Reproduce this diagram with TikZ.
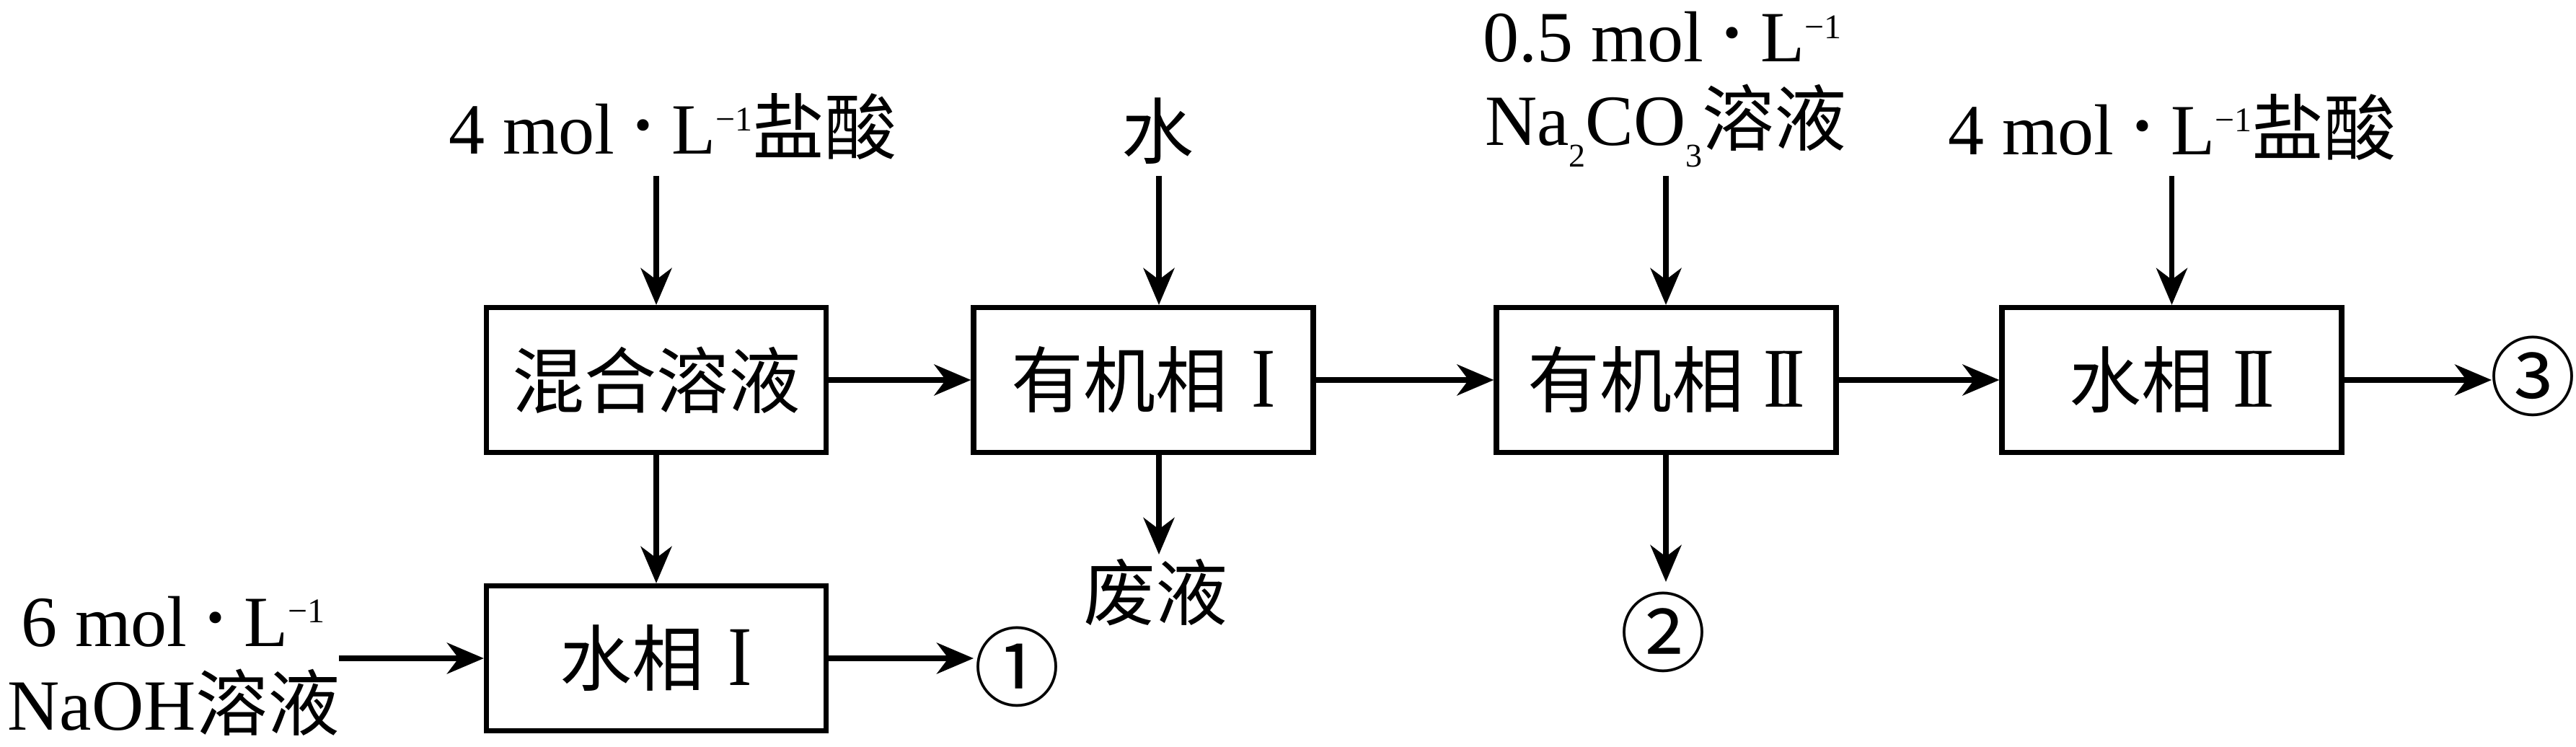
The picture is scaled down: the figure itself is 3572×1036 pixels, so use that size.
\documentclass[tikz,border=0pt]{standalone}
\usepackage{fontspec}
\usepackage{graphicx}
\setmainfont{Liberation Serif}
\newfontfamily\cjk{Noto Sans CJK SC}
\usetikzlibrary{arrows.meta}
\newcommand{\md}{\kern0.17em\raisebox{-0.05em}{\scalebox{1.35}{·}}\kern0.17em}
\newcommand{\sups}[1]{\raisebox{0.32em}{\fontsize{24}{24}\selectfont #1}}
\newcommand{\subs}[1]{\raisebox{-0.3em}{\fontsize{23}{23}\selectfont #1}}
\newcommand{\RomI}{\scalebox{1}[1.18]{I}}
\newcommand{\RomII}{\scalebox{1}[1.18]{I\kern-0.1em I}}
\tikzset{
  every node/.append style={font=\fontsize{50}{60}\selectfont},
  box/.style={draw, line width=3.6pt, minimum width=235.5pt, minimum height=100.5pt, inner sep=0pt},
  arr/.style={line width=3.6pt, -{Stealth[length=25.5pt,width=21.5pt,inset=8pt]}},
  lab/.style={inner sep=0pt, anchor=base},
  circ/.style={inner sep=0pt, font=\fontsize{60}{66}\selectfont}
}
\begin{document}
\begin{tikzpicture}[x=0.5pt,y=-0.5pt]
\useasboundingbox (0,0) rectangle (3572,1036);
% boxes
\node[box] (mix) at (910,527) {{\cjk 混合溶液}};
\node[box] (org1) at (1585.5,527) {{\cjk 有机相}\hspace{0.33em}\RomI};
\node[box] (org2) at (2310.5,527) {{\cjk 有机相}\hspace{0.27em}\RomII};
\node[box] (aq2) at (3011.5,527) {{\cjk 水相}\hspace{0.27em}\RomII};
\node[box] (aq1) at (910,913) {{\cjk 水相}\hspace{0.33em}\RomI};
% labels
\node[lab] (hcl1) at (933,214) {4 mol\md L\sups{−1}{\cjk 盐酸}};
\node[lab] (water) at (1605,220) {{\cjk 水}};
\node[lab] (na1) at (2305,86) {0.5 mol\md L\sups{−1}};
\node[lab] (na2) at (2310,202) {Na\subs{2}CO\subs{3}{\cjk 溶液}};
\node[lab] (hcl2) at (3012,215) {4 mol\md L\sups{−1}{\cjk 盐酸}};
\node[lab] (oh1) at (240,896) {6 mol\md L\sups{−1}};
\node[lab] (oh2) at (241,1012) {NaOH{\cjk 溶液}};
\node[lab] (waste) at (1602,860) {{\cjk 废液}};
\node[circ] (c1) at (1410,925) {{\cjk ①}};
\node[circ] (c2) at (2306,877) {{\cjk ②}};
\node[circ] (c3) at (3512,522) {{\cjk ③}};
% connectors
\coordinate (h1s) at (910,244);
\coordinate (ws) at (1607,244);
\coordinate (ns) at (2310,244);
\coordinate (h2s) at (3011.5,244);
\coordinate (ohs) at (470,913);
\coordinate (e1) at (1350,913);
\coordinate (wt) at (1607,769);
\coordinate (t2) at (2310,807);
\coordinate (t3) at (3455,527);
\draw[arr] (h1s) -- (mix.north);
\draw[arr] (ws) -- (ws |- org1.north);
\draw[arr] (ns) -- (ns |- org2.north);
\draw[arr] (h2s) -- (aq2.north);
\draw[arr] (mix) -- (org1);
\draw[arr] (org1) -- (org2);
\draw[arr] (org2) -- (aq2);
\draw[arr] (mix) -- (aq1);
\draw[arr] (ohs) -- (aq1);
\draw[arr] (aq1) -- (e1);
\draw[arr] (wt |- org1.south) -- (wt);
\draw[arr] (t2 |- org2.south) -- (t2);
\draw[arr] (aq2) -- (t3);
\end{tikzpicture}
\end{document}
